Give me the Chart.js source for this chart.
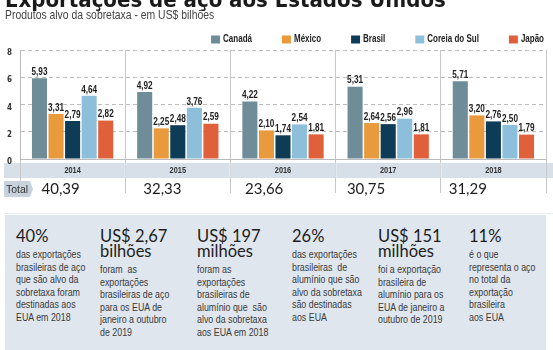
<!DOCTYPE html>
<html>
<head>
<meta charset="utf-8">
<script src="https://cdn.jsdelivr.net/npm/chart.js@4.4.1/dist/chart.umd.min.js"></script>
<style>
  body { margin: 0; background: #fff; width: 553px; height: 350px; overflow: hidden; position: relative; font-family: "Liberation Sans", Arial, sans-serif; }
  #title { position: absolute; left: 5px; top: -11px; font-family: "DejaVu Sans Condensed", sans-serif; font-weight: bold; font-size: 22px; line-height: 21px; color: #1a1a1a; white-space: nowrap; }
  #subtitle { position: absolute; left: 5px; top: 7px; font-size: 13.5px; line-height: 15px; color: #444; white-space: nowrap; transform: scaleX(0.77); transform-origin: left top; }
  #chartBox { position: absolute; left: 0; top: 0; width: 553px; height: 215px; }
  #panel { position: absolute; left: 5px; top: 215px; width: 541px; height: 135px; background: #dfe6ee; }
  .col { position: absolute; top: 14px; }
  .col h3 { margin: 0; font-family: Lato, "Open Sans", sans-serif; font-weight: normal; font-size: 16.5px; line-height: 15px; color: #1d1d1d; white-space: nowrap; }
  .col p { margin: 4px 0 0 0; font-size: 11.5px; line-height: 12.5px; color: #3a3a3a; white-space: nowrap; transform: scaleX(0.77); transform-origin: left top; }
</style>
</head>
<body>
<div id="chartBox"><canvas id="catChart" width="553" height="215"></canvas></div>
<div id="title">Exportações de aço aos Estados Unidos</div>
<div id="subtitle">Produtos alvo da sobretaxa - em US$ bilhões</div>
<div id="panel">
  <div class="col" style="left:11px"><h3>40%</h3><p>das exportações<br>brasileiras de aço<br>que são alvo da<br>sobretaxa foram<br>destinadas aos<br>EUA em 2018</p></div>
  <div class="col" style="left:95px"><h3>US$ 2,67<br>bilhões</h3><p>foram&nbsp; as<br>exportações<br>brasileiras de aço<br>para os EUA de<br>janeiro a outubro<br>de 2019</p></div>
  <div class="col" style="left:192px"><h3>US$ 197<br>milhões</h3><p>foram as<br>exportações<br>brasileiras de<br>alumínio que&nbsp; são<br>alvo da sobretaxa<br>aos EUA em 2018</p></div>
  <div class="col" style="left:287px"><h3>26%</h3><p>das exportações<br>brasileiras&nbsp; de<br>alumínio que são<br>alvo da sobretaxa<br>são destinadas<br>aos EUA</p></div>
  <div class="col" style="left:373px"><h3>US$ 151<br>milhões</h3><p>foi a exportação<br>brasileira de<br>alumínio para os<br>EUA de janeiro a<br>outubro de 2019</p></div>
  <div class="col" style="left:464px"><h3>11%</h3><p>é o que<br>representa o aço<br>no total da<br>exportação<br>brasileira<br>aos EUA</p></div>
</div>
<script>
const years = ['2014', '2015', '2016', '2017', '2018'];
const countries = ['Canadá', 'México', 'Brasil', 'Coreia do Sul', 'Japão'];
const canada = [5.93, 4.92, 4.22, 5.31, 5.71];
const mexico = [3.31, 2.25, 2.10, 2.64, 3.20];
const brasil = [2.79, 2.48, 1.74, 2.56, 2.76];
const coreia = [4.64, 3.76, 2.54, 2.96, 2.50];
const japao = [2.82, 2.59, 1.81, 1.81, 1.79];
const totals = [40.39, 32.33, 23.66, 30.75, 31.29];
const yTicks = [0, 2, 4, 6, 8];
const colors = ['#6f8c99', '#e89a3c', '#0e3b56', '#8dbfda', '#df603a'];

const SANS = '"Liberation Sans", Arial, sans-serif';

function fmt(v) {
  return v.toFixed(2).replace('.', ',');
}

// squeezed text, the graphic uses a condensed face
function narrowText(ctx, text, x, y, sx) {
  ctx.save();
  ctx.translate(x, y);
  ctx.scale(sx, 1);
  ctx.fillText(text, 0, 0);
  ctx.restore();
}

// value labels above each bar
const barLabels = {
  id: 'barLabels',
  afterDatasetsDraw(chart) {
    const ctx = chart.ctx;
    ctx.save();
    ctx.font = 'bold 10px ' + SANS;
    ctx.fillStyle = '#222';
    ctx.textAlign = 'center';
    ctx.textBaseline = 'bottom';
    chart.data.datasets.forEach(function (ds, i) {
      chart.getDatasetMeta(i).data.forEach(function (bar, j) {
        narrowText(ctx, fmt(ds.data[j]), bar.x, bar.y - 1, 0.82);
      });
    });
    ctx.restore();
  }
};

// year band behind the x labels
const yearBand = {
  id: 'yearBand',
  beforeDraw(chart) {
    const ctx = chart.ctx;
    const b = chart.chartArea.bottom;
    ctx.save();
    ctx.fillStyle = '#d7e0e9';
    ctx.fillRect(4, b + 4, chart.width - 4, 15);
    ctx.restore();
  }
};

// legend, year labels, total row
const extras = {
  id: 'extras',
  afterDraw(chart) {
    const ctx = chart.ctx;
    const x = chart.scales.x;
    const b = chart.chartArea.bottom;
    ctx.save();

    // legend, right aligned
    ctx.font = 'bold 10px ' + SANS;
    ctx.textBaseline = 'middle';
    ctx.textAlign = 'left';
    let right = 544;
    for (let i = chart.data.datasets.length - 1; i >= 0; i--) {
      const ds = chart.data.datasets[i];
      const w = ctx.measureText(ds.label).width * 0.8;
      const tx = right - w;
      ctx.fillStyle = '#222';
      narrowText(ctx, ds.label, tx, 39.5, 0.8);
      ctx.fillStyle = ds.backgroundColor;
      ctx.fillRect(tx - 12, 35.5, 9, 8);
      right = tx - 12 - 30;
    }

    // lighter separators inside year band
    ctx.fillStyle = 'rgba(255,255,255,0.6)';
    for (let i = 1; i < years.length; i++) {
      const px = Math.round((x.getPixelForValue(i - 1) + x.getPixelForValue(i)) / 2);
      ctx.fillRect(px - 0.5, b + 4, 1, 15);
    }

    // year labels
    ctx.textAlign = 'center';
    ctx.fillStyle = '#333';
    ctx.font = 'bold 9px ' + SANS;
    years.forEach(function (yr, i) {
      narrowText(ctx, yr, x.getPixelForValue(i), b + 11.5, 0.82);
    });

    // Total tag
    const ty = b + 22;
    ctx.fillStyle = '#c8d2dc';
    ctx.beginPath();
    ctx.moveTo(4, ty);
    ctx.lineTo(30, ty);
    ctx.lineTo(33, ty + 8);
    ctx.lineTo(30, ty + 16);
    ctx.lineTo(4, ty + 16);
    ctx.closePath();
    ctx.fill();
    ctx.fillStyle = '#333';
    ctx.font = '11px ' + SANS;
    narrowText(ctx, 'Total', 17, ty + 8.5, 0.95);

    // the totals sit a little left of each column centre
    ctx.font = '15px Lato, "Open Sans", sans-serif';
    ctx.fillStyle = '#1d1d1d';
    totals.forEach(function (t, i) {
      ctx.fillText(fmt(t), x.getPixelForValue(i) - 12 - 3.4 * i, ty + 8);
    });

    // faint rule above the panel
    ctx.fillStyle = '#e6ebf0';
    ctx.fillRect(4, 213, chart.width - 4, 1);
    ctx.restore();
  }
};

function exportChart() {
  const getChart = document.getElementById('catChart').getContext('2d');
  const series = [canada, mexico, brasil, coreia, japao];
  const steelChart = new Chart(getChart, {
    type: 'bar',
    data: {
      labels: years,
      datasets: series.map(function (s, i) {
        return {
          label: countries[i],
          data: s,
          backgroundColor: colors[i],
          borderWidth: 0,
          categoryPercentage: 0.787,
          barPercentage: 0.91
        };
      })
    },
    options: {
      responsive: false,
      animation: false,
      layout: { padding: { top: 50, left: 0, right: 7, bottom: 0 } },
      plugins: {
        legend: { display: false },
        tooltip: { enabled: false }
      },
      scales: {
        x: {
          afterFit: function (s) { s.height = 56; },
          grid: { offset: true, color: '#c8c8c8', tickLength: 34, lineWidth: 1 },
          border: { color: '#bbb' },
          ticks: { display: false }
        },
        y: {
          min: 0,
          max: 8,
          afterFit: function (s) { s.width = 20; },
          afterBuildTicks: function (s) { s.ticks = yTicks.map(function (v) { return { value: v }; }); },
          grid: { color: '#bdbdbd', drawTicks: false },
          border: { display: true, color: '#bbb', dash: [4, 3] },
          ticks: {
            padding: 8,
            labelOffset: 3,
            color: '#333',
            font: { family: '"DejaVu Sans Condensed", sans-serif', size: 8, weight: 'bold' }
          }
        }
      }
    },
    plugins: [yearBand, barLabels, extras]
  });
}

exportChart();
</script>
</body>
</html>
